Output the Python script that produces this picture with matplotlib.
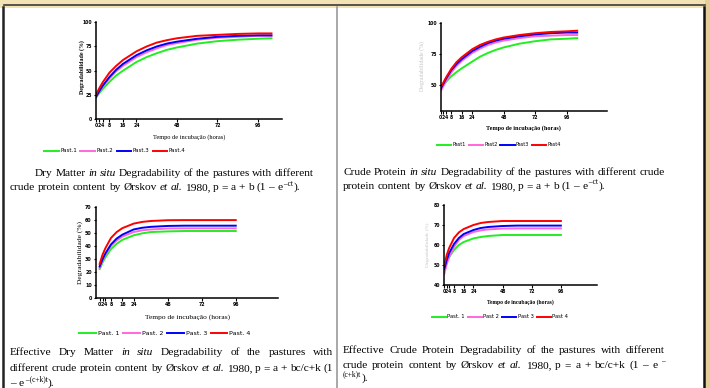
import matplotlib
matplotlib.use("Agg")
import matplotlib.pyplot as plt
from matplotlib.patches import Rectangle

# ---- data ----
t_a = [0, 2, 4, 8, 12, 16, 24, 30, 36, 42, 48, 60, 72, 84, 96, 104]
t_b = [0, 2, 4, 8, 12, 16, 24, 30, 36, 48, 60, 72, 84, 96]
ticks_x = [0, 2, 4, 8, 16, 24, 48, 72, 96]

# dry matter in situ degradability
dm_p1 = [22, 27, 31, 38.5, 45, 50, 59, 64, 68, 71.5, 74, 78, 80.5, 82, 83, 83.5]
dm_p2 = [23, 28.5, 33.5, 42, 49.5, 55, 64, 69, 73, 76.5, 78.5, 82, 84, 85, 86, 86]
dm_p3 = [23, 29, 34.5, 43.5, 51, 57, 66, 71, 75, 78, 80, 83, 85, 86, 86.5, 86.5]
dm_p4 = [25, 32, 38, 48, 55, 61, 70, 75, 79, 81.5, 83.5, 86, 87, 88, 88.5, 88.5]

# crude protein in situ degradability
cp_p1 = [48, 50, 52.5, 57, 60.5, 63.5, 69, 73, 76, 78.5, 80.5, 83.5, 85.5, 87, 87.5, 88]
cp_p2 = [45, 49, 53, 60, 65.5, 69.5, 76, 79.5, 82.5, 84.5, 86, 88, 89.5, 90, 90.5, 90.5]
cp_p3 = [47, 51, 55, 62, 67, 71, 77.5, 81, 84, 86, 87.5, 89.5, 91, 92, 92.5, 92.5]
cp_p4 = [48, 52, 56, 63, 68.5, 72.5, 79, 82.5, 85, 87, 88.5, 90.5, 92, 93, 93.5, 94]

# effective dry matter degradability
edm_p1 = [22, 27, 31, 37.5, 41.5, 44.5, 48, 49.5, 50.5, 51, 51.3, 51.3, 51.3, 51.3]
edm_p2 = [23, 28.5, 33, 40, 44, 47, 50.5, 51.8, 52.5, 53.2, 53.3, 53.3, 53.3, 53.3]
edm_p3 = [24, 29.5, 34, 41, 45.5, 48.5, 52.5, 53.8, 54.5, 55.2, 55.4, 55.4, 55.4, 55.4]
edm_p4 = [26, 33, 38, 46, 50.5, 53.5, 57, 58.3, 59, 59.6, 59.7, 59.7, 59.7, 59.7]

# effective crude protein degradability
ecp_p1 = [48, 51.5, 54, 57.5, 60, 61.5, 63.3, 64, 64.5, 65, 65, 65, 65, 65]
ecp_p2 = [45.5, 50.5, 54, 59, 62.5, 64.5, 66.5, 67.3, 67.8, 68.2, 68.3, 68.3, 68.3, 68.3]
ecp_p3 = [48, 52.5, 56, 60.5, 63.5, 65.5, 67.5, 68.5, 69, 69.5, 69.7, 69.7, 69.7, 69.7]
ecp_p4 = [50, 55, 58.5, 63.5, 66.3, 68, 70, 71, 71.5, 72, 72, 72, 72, 72]

colors = ['#22ee22', '#ff66dd', '#0000ff', '#ff0000']

W, H = 710, 388
fig = plt.figure(figsize=(W / 100, H / 100), dpi=100)

# background axes in pixel units for the table frame and captions
bg = fig.add_axes([0, 0, 1, 1])
bg.set_xlim(0, W)
bg.set_ylim(H, 0)
bg.axis('off')
bg.add_patch(Rectangle((0, 0), W, 7.5, color='#f3e2b3', lw=0))
bg.plot([4, 705], [4.5, 4.5], color='#3a3a3a', lw=1.2)
bg.add_patch(Rectangle((705, 0), 5, H, color='#e4cd98', lw=0))
bg.plot([3, 3], [7, H], color='#222222', lw=1.8)
bg.plot([704, 704], [7, H], color='#111111', lw=1.8)
bg.plot([337, 337], [7, H], color='#9a9a9a', lw=1.2)


def px_axes(left, bottom, right, top):
    return fig.add_axes([left / W, 1 - bottom / H, (right - left) / W, (bottom - top) / H])


def style(ax, size, weight='bold'):
    for s in ['top', 'right']:
        ax.spines[s].set_visible(False)
    for s in ['left', 'bottom']:
        ax.spines[s].set_linewidth(1.1)
    ax.tick_params(direction='out', length=1.8, width=0.8, pad=1, labelsize=size)
    for lab in ax.get_xticklabels() + ax.get_yticklabels():
        lab.set_fontweight(weight)
    ax.patch.set_alpha(0)


def panel(ax, t, series, labels, ylim, yticks, xlim, tick_size, leg_xy, leg_size, handle):
    for y, c, lab in zip(series, colors, labels):
        ax.plot(t, y, color=c, lw=1.4, label=lab)
    ax.set_xlim(*xlim)
    ax.set_ylim(*ylim)
    ax.set_xticks(ticks_x)
    ax.set_yticks(yticks)
    style(ax, tick_size)
    ax.legend(loc='center', bbox_to_anchor=(leg_xy[0] / W, 1 - leg_xy[1] / H),
              bbox_transform=fig.transFigure, ncol=4, frameon=False,
              fontsize=leg_size, handlelength=handle, handletextpad=0.3,
              columnspacing=0.6, borderpad=0)


ax1 = px_axes(96, 119, 281.6, 22.3)
panel(ax1, t_a, [dm_p1, dm_p2, dm_p3, dm_p4], ['Past.1', 'Past.2', 'Past.3', 'Past.4'],
      (0, 100), [0, 25, 50, 75, 100], (0, 110), 3.3, (115, 151), 4.0, 2.6)

ax2 = px_axes(440.7, 111, 607, 23.3)
panel(ax2, t_a, [cp_p1, cp_p2, cp_p3, cp_p4], ['Past1', 'Past2', 'Past3', 'Past4'],
      (29, 100), [50, 75, 100], (0, 126.7), 3.3, (499, 145), 3.6, 2.8)

ax3 = px_axes(95.7, 297.7, 277.7, 206.7)
panel(ax3, t_b, [edm_p1, edm_p2, edm_p3, edm_p4], ['Past. 1', 'Past. 2', 'Past. 3', 'Past. 4'],
      (0, 70), list(range(0, 71, 10)), (-2.8, 125.6), 3.4, (165, 333), 4.6, 2.6)

ax4 = px_axes(444.3, 285, 596.7, 205)
panel(ax4, t_b, [ecp_p1, ecp_p2, ecp_p3, ecp_p4], ['Past. 1', 'Past 2', 'Past 3', 'Past 4'],
      (40, 80), [40, 50, 60, 70, 80], (0, 125.5), 3.3, (500, 317), 3.8, 2.6)

# axis titles
ylab = 'Degradabilidade (%)'
xlab = 'Tempo de incubação (horas)'
bg.text(82, 67, ylab, rotation=90, ha='center', va='center', fontsize=4.2,
        family='Liberation Serif', fontweight='bold')
bg.text(189, 137, xlab, ha='center', va='center', fontsize=4.6, family='Liberation Serif')
bg.text(422, 66, ylab, rotation=90, ha='center', va='center', fontsize=4.2,
        family='Liberation Serif', color='#c4c4c4')
bg.text(523, 128, xlab, ha='center', va='center', fontsize=4.4, family='Liberation Serif',
        fontweight='bold')
bg.text(80.5, 252, ylab, rotation=90, ha='center', va='center', fontsize=5.4,
        family='Liberation Serif')
bg.text(188, 317, xlab, ha='center', va='center', fontsize=5.4, family='Liberation Serif')
bg.text(428, 245, ylab, rotation=90, ha='center', va='center', fontsize=3.8,
        family='Liberation Serif', color='#c4c4c4')
bg.text(520, 302, xlab, ha='center', va='center', fontsize=4.0, family='Liberation Serif',
        fontweight='bold')

# captions, word by word so that lines can be justified
FS = 8.2
renderer = fig.canvas.get_renderer()


def write(words, x0, y, width=None):
    # words: list of words, each a list of (text, kind) with kind n / i / s
    drawn = []
    for word in words:
        pieces = []
        for txt, kind in word:
            size = FS * 0.66 if kind == 's' else FS
            t = bg.text(0, y - (4.5 if kind == 's' else 0), txt, fontsize=size,
                        family='Liberation Serif', style='italic' if kind == 'i' else 'normal',
                        va='baseline', ha='left')
            pieces.append(t)
        drawn.append(pieces)
    widths = []
    for pieces in drawn:
        widths.append([p.get_window_extent(renderer).width for p in pieces])
    gap = 2.8
    if width is not None and len(drawn) > 1:
        gap = (width - sum(sum(w) for w in widths)) / (len(drawn) - 1)
    x = x0
    for pieces, ws in zip(drawn, widths):
        for p, w in zip(pieces, ws):
            p.set_x(x)
            x += w
        x += gap


def words_of(s, kind='n'):
    return [[(w, kind)] for w in s.split()]


ital = lambda s: words_of(s, 'i')

write(words_of('Dry Matter') + ital('in situ') +
      words_of('Degradability of the pastures with different'), 35, 176, 279)
write(words_of('crude protein content by Ørskov') + ital('et al.') +
      words_of('1980, p = a + b (1 –') + [[('e', 'n'), (' –ct', 's'), (').', 'n')]], 10, 190)

write(words_of('Crude Protein') + ital('in situ') +
      words_of('Degradability of the pastures with different crude'), 343, 175, 322)
write(words_of('protein content by Ørskov') + ital('et al.') +
      words_of('1980, p = a + b (1 –') + [[('e', 'n'), (' –ct', 's'), (').', 'n')]], 343, 189)

write(words_of('Effective Dry Matter') + ital('in situ') +
      words_of('Degradability of the pastures with'), 10, 355, 323)
write(words_of('different crude protein content by Ørskov') + ital('et al.') +
      words_of('1980, p = a + bc/c+k (1'), 10, 371, 323)
write([[('–', 'n')], [('e', 'n'), (' –(c+k)t', 's'), (').', 'n')]], 10, 386)

write(words_of('Effective Crude Protein Degradability of the pastures with different'),
      343, 353, 322)
write(words_of('crude protein content by Ørskov') + ital('et al.') +
      words_of('1980, p = a + bc/c+k (1 – e') + [[('–', 's')]], 343, 368, 322)
write([[('(c+k)t', 's'), (').', 'n')]], 343, 381)

fig.savefig('out.png', dpi=100)
